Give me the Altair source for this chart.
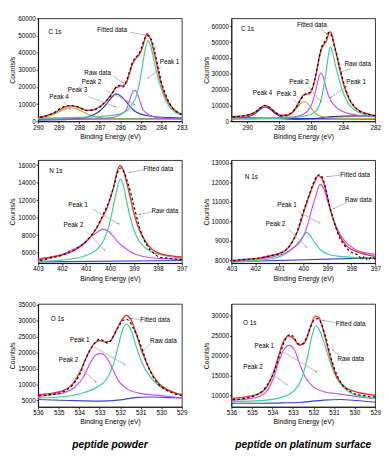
import math
import altair as alt
import pandas as pd

FONT = "Liberation Sans"
W, H = 148, 106

# ---------------- colours ----------------
RED = "#f02a2a"
GREEN = "#3cd08e"
BLUE = "#2433c2"
MAGENTA = "#c452f0"
OLIVE = "#a9b244"
BG = "#3a46c8"
DARKBG = "#1e2050"

# ---------------- panel 1 : C 1s, peptide powder ----------------
p1_bg = [(290, 1300), (287, 1350), (285, 1450), (283, 1500)]
p1_peak1 = [(290, 1800), (289, 2000), (288, 2300), (287, 2800), (286.5, 3300), (286.0, 4300), (285.8, 5300),
            (285.6, 7000), (285.4, 10500), (285.25, 13500), (285.1, 20000), (284.95, 30000), (284.8, 41000),
            (284.65, 47000), (284.5, 43000), (284.35, 35000), (284.2, 27000), (284.0, 19000), (283.8, 12500),
            (283.6, 8500), (283.4, 6000), (283.2, 4500), (283.0, 3700)]
p1_peak3 = [(290, 1200), (288, 1300), (287, 1500), (286.5, 2000), (286.2, 2800), (286.0, 3800), (285.85, 5000),
            (285.7, 7000), (285.55, 12000), (285.42, 16500), (285.3, 18000), (285.18, 16500), (285.05, 12000),
            (284.9, 7000), (284.75, 5000), (284.6, 3800), (284.4, 2800), (284.1, 2000), (283.5, 1500), (283, 1400)]
p1_peak2 = [(290, 800), (289, 900), (288.5, 1100), (288, 1500), (287.6, 2500), (287.3, 3800), (287.0, 6000),
            (286.7, 9500), (286.45, 13500), (286.2, 16000), (285.95, 14500), (285.7, 11300), (285.5, 8300),
            (285.3, 6000), (285.0, 4200), (284.6, 3100), (284.2, 2500), (283.6, 2100), (283, 1850)]
p1_peak4 = [(290, 1700), (289.6, 2600), (289.2, 4200), (288.9, 6000), (288.65, 7400), (288.4, 7900),
            (288.15, 7400), (287.9, 6000), (287.6, 4200), (287.2, 2600), (286.8, 1800), (286, 1400),
            (285, 1300), (283, 1200)]
p1_fit = [(290, 2200), (289.6, 3300), (289.2, 5000), (288.9, 7000), (288.65, 8500), (288.4, 9000),
          (288.15, 8600), (287.9, 7500), (287.6, 6400), (287.3, 6600), (287.0, 8500), (286.7, 11500),
          (286.45, 15500), (286.2, 19500), (286.0, 20500), (285.85, 20800), (285.7, 22500), (285.55, 28000),
          (285.4, 33500), (285.25, 36500), (285.1, 38500), (284.95, 42000), (284.8, 48000), (284.7, 51000),
          (284.6, 50000), (284.45, 45000), (284.3, 37500), (284.15, 29000), (284.0, 21500), (283.8, 14500),
          (283.6, 10000), (283.4, 7200), (283.2, 5400), (283.0, 4200)]
p1_raw = [(290, 2000), (289.6, 3200), (289.2, 5200), (288.9, 7600), (288.65, 9000), (288.4, 9200),
          (288.15, 8800), (287.9, 7600), (287.6, 6200), (287.3, 6800), (287.0, 8200), (286.7, 11800),
          (286.45, 15000), (286.2, 20000), (286.0, 21000), (285.85, 20000), (285.7, 23500), (285.55, 29000),
          (285.4, 34500), (285.25, 37500), (285.1, 39000), (284.95, 43500), (284.8, 48500), (284.7, 50000),
          (284.6, 49500), (284.45, 46500), (284.3, 39500), (284.15, 31000), (284.0, 23000), (283.8, 16000),
          (283.6, 10500), (283.4, 7000), (283.2, 5000), (283.0, 4000)]
p1_labels = [("Fitted data", 286.4, 53300), ("Peak 1", 283.6, 34400), ("Raw data", 287.1, 28300),
             ("Peak 2", 287.4, 22800), ("Peak 3", 288.08, 18100), ("Peak 4", 288.98, 14000)]
p1_arrows = [(285.55, 52000, 284.77, 50200), (283.98, 31700, 284.64, 25200), (286.36, 26500, 285.86, 22400),
             (286.67, 17800, 285.31, 9800), (287.55, 14400, 286.25, 8500), (288.75, 11300, 288.44, 7000)]

# ---------------- panel 2 : C 1s, peptide on platinum ----------------
p2_bg = [(291, 2200), (289.5, 2000), (288, 1700), (286.8, 1400), (285.8, 1700), (285, 2600), (284.3, 3200),
         (283, 3400), (282, 3400)]
p2_peak1 = [(291, 1500), (289, 1700), (287.5, 2200), (286.5, 3200), (286.0, 4500), (285.7, 6500), (285.5, 10000),
            (285.35, 15000), (285.2, 23000), (285.05, 33000), (284.92, 42000), (284.8, 47000), (284.68, 44000),
            (284.5, 36000), (284.3, 28000), (284.1, 21000), (283.9, 15500), (283.7, 11500), (283.4, 8000),
            (283.0, 5500), (282.5, 4000), (282, 3300)]
p2_peak2 = [(291, 1800), (289, 2000), (287.5, 2500), (286.8, 3300), (286.5, 4500), (286.2, 6800), (286.0, 10000),
            (285.85, 14500), (285.7, 20500), (285.55, 27000), (285.4, 30500), (285.25, 28000), (285.1, 22000),
            (284.95, 17000), (284.8, 13500), (284.6, 10500), (284.3, 7800), (284.0, 6000), (283.5, 4500),
            (283, 3700), (282, 3000)]
p2_peak3 = [(291, 1500), (289, 1700), (288, 2200), (287.5, 3200), (287.2, 5000), (286.95, 8000), (286.7, 11000),
            (286.45, 12500), (286.2, 11000), (285.95, 7500), (285.7, 4800), (285.4, 3200), (285, 2400),
            (284, 2000), (282, 1700)]
p2_peak4 = [(291, 1600), (290.3, 2100), (289.9, 3000), (289.5, 5000), (289.2, 7500), (288.9, 9000),
            (288.6, 7800), (288.3, 5200), (288.0, 3300), (287.6, 2300), (287, 1800), (285, 1500), (282, 1400)]
p2_fit = [(291, 2900), (290.5, 3200), (290, 3800), (289.6, 5200), (289.3, 7500), (289.1, 9200), (288.9, 9900),
          (288.7, 9200), (288.4, 6800), (288.1, 4600), (287.8, 3800), (287.5, 3800), (287.2, 5500),
          (286.95, 9000), (286.7, 13500), (286.5, 16500), (286.3, 17000), (286.1, 17500), (285.95, 20000),
          (285.8, 25000), (285.65, 32000), (285.5, 40000), (285.35, 46000), (285.2, 48500), (285.05, 51000),
          (284.92, 55000), (284.82, 56500), (284.7, 54500), (284.55, 48000), (284.4, 41000), (284.2, 32000),
          (284.0, 24000), (283.8, 18000), (283.55, 12500), (283.3, 9000), (283.0, 6800), (282.5, 4800),
          (282, 3600)]
p2_raw = [(291, 2800), (290.6, 3000), (290.2, 3500), (289.8, 4500), (289.4, 6600), (289.1, 9000), (288.9, 10000),
          (288.7, 9500), (288.4, 7000), (288.1, 4500), (287.8, 3500), (287.5, 4000), (287.2, 5800),
          (286.95, 8600), (286.7, 13000), (286.5, 16000), (286.3, 17800), (286.1, 18200), (285.95, 20500),
          (285.8, 26000), (285.65, 33000), (285.5, 41000), (285.35, 47000), (285.2, 49500), (285.05, 52500),
          (284.92, 56000), (284.82, 55500), (284.7, 53000), (284.55, 47000), (284.4, 42000), (284.2, 33500),
          (284.0, 25500), (283.8, 19000), (283.55, 13000), (283.3, 9500), (283.0, 6500), (282.5, 4600),
          (282, 3500)]
p2_labels = [("Fitted data", 285.97, 60800), ("Raw data", 283.09, 36200), ("Peak 1", 283.19, 24500),
             ("Peak 2", 286.77, 24500), ("Peak 3", 287.56, 17100), ("Peak 4", 289.05, 17700)]
p2_arrows = [(285.47, 59400, 285.02, 54900), (283.54, 33200, 284.14, 31200), (283.72, 22100, 284.78, 15100),
             (286.17, 21500, 285.41, 12500), (287.16, 14100, 286.77, 10100)]

# ---------------- panel 3 : N 1s, peptide powder ----------------
p3_bg = [(403, 4950), (397, 5100)]
p3_peak1 = [(403, 5000), (402, 5150), (401.2, 5500), (400.8, 5900), (400.5, 6500), (400.25, 7500),
            (400.05, 9000), (399.9, 10800), (399.75, 12800), (399.6, 14300), (399.55, 14400), (399.45, 13800),
            (399.3, 11800), (399.15, 10000), (399.0, 8600), (398.8, 7400), (398.5, 6500), (398.2, 6000),
            (397.8, 5700), (397.4, 5500), (397, 5400)]
p3_peak2 = [(403, 5300), (402.5, 5500), (402, 5800), (401.6, 6300), (401.3, 6700), (401.0, 7300),
            (400.75, 7900), (400.5, 8400), (400.3, 8700), (400.1, 8500), (399.9, 8000), (399.7, 7300),
            (399.45, 6700), (399.2, 6200), (399.0, 5900), (398.5, 5500), (398, 5350), (397, 5250)]
p3_fit = [(403, 5200), (402.4, 5500), (401.9, 5800), (401.45, 6300), (401.05, 7100), (400.7, 8200),
          (400.4, 9600), (400.1, 11300), (399.85, 13500), (399.7, 15300), (399.58, 16000), (399.45, 15500),
          (399.3, 14000), (399.15, 12300), (399.0, 10500), (398.8, 8800), (398.55, 7400), (398.25, 6400),
          (397.9, 5900), (397.5, 5650), (397, 5500)]
p3_raw = [(403, 5100), (402.7, 5200), (402.4, 5450), (402.1, 5600), (401.8, 5950), (401.5, 6300),
          (401.2, 6800), (400.9, 7600), (400.6, 8700), (400.3, 10300), (400.0, 12200), (399.8, 14000),
          (399.65, 15400), (399.55, 15700), (399.42, 15300), (399.28, 14200), (399.12, 12700), (398.95, 10800),
          (398.8, 9200), (398.6, 7600), (398.4, 6600), (398.2, 6000), (397.95, 5500), (397.7, 5400),
          (397.4, 5300), (397, 5200)]
p3_labels = [("Fitted data", 397.98, 15600), ("Raw data", 397.71, 10800), ("Peak 1", 401.33, 11400),
             ("Peak 2", 401.53, 9200)]
p3_arrows = [(398.58, 15500, 399.18, 15200), (398.18, 10700, 398.78, 10400), (400.72, 11000, 399.65, 9300),
             (400.99, 8400, 400.23, 6300)]

# ---------------- panel 4 : N 1s, peptide on platinum ----------------
p4_bg = [(403, 7920), (397, 8120)]
p4_peak1 = [(403, 7950), (402, 8050), (401.2, 8200), (400.7, 8400), (400.4, 8650), (400.1, 9000),
            (399.85, 9700), (399.65, 10600), (399.48, 11300), (399.3, 11900), (399.15, 11700), (399.0, 11100),
            (398.85, 10500), (398.65, 9800), (398.45, 9300), (398.2, 8900), (397.9, 8600), (397.5, 8400),
            (397, 8300)]
p4_peak2 = [(403, 7900), (402, 7980), (401.2, 8100), (400.8, 8300), (400.5, 8550), (400.25, 8850),
            (400.05, 9150), (399.85, 9430), (399.7, 9250), (399.55, 8950), (399.4, 8700), (399.2, 8450),
            (398.9, 8280), (398.5, 8200), (397, 8100)]
p4_fit = [(403, 7980), (402.4, 8050), (401.8, 8120), (401.2, 8280), (400.75, 8500), (400.48, 8900),
          (400.2, 9600), (399.95, 10600), (399.7, 11500), (399.5, 12100), (399.38, 12350), (399.25, 12250),
          (399.1, 11800), (398.95, 11000), (398.75, 10100), (398.5, 9300), (398.2, 8750), (397.8, 8450),
          (397.4, 8300), (397, 8200)]
p4_raw = [(403, 7950), (402.8, 8000), (402.5, 8030), (402.2, 8060), (401.9, 8100), (401.6, 8160),
          (401.3, 8250), (401.0, 8330), (400.7, 8550), (400.45, 8950), (400.25, 9500), (400.0, 10500),
          (399.8, 11200), (399.6, 11900), (399.45, 12300), (399.32, 12400), (399.2, 12250), (399.05, 11600),
          (398.9, 10800), (398.7, 9900), (398.5, 9200), (398.3, 8800), (398.1, 8500), (397.9, 8350),
          (397.7, 8250), (397.55, 8050), (397.45, 8200), (397.3, 8000), (397.15, 8150), (397, 8050)]
p4_labels = [("Fitted data", 397.84, 12380), ("Raw data", 397.7, 11070), ("Peak 1", 400.68, 10820),
             ("Peak 2", 401.16, 9870)]
p4_arrows = [(398.45, 12380, 398.99, 12300), (398.18, 10980, 398.72, 10660), (400.21, 10500, 399.33, 9920),
             (400.62, 9590, 399.87, 8690)]

# ---------------- panel 5 : O 1s, peptide powder ----------------
p5_bg = [(536, 5300), (534.5, 5000), (533, 4800), (532, 5200), (531.3, 5900), (530.5, 6100), (529.5, 5900),
         (529, 5800)]
p5_peak1 = [(536, 5800), (535, 6100), (534.5, 6400), (533.75, 7500), (533.1, 9300), (532.65, 11800),
            (532.35, 16000), (532.1, 22000), (531.9, 27000), (531.7, 29000), (531.5, 27500), (531.25, 22500),
            (530.95, 17000), (530.55, 12500), (530.15, 9800), (529.7, 8100), (529.3, 7200), (529, 6700)]
p5_peak2 = [(536, 6300), (535.3, 6800), (534.8, 7300), (534.2, 9300), (533.8, 12300), (533.5, 16300),
            (533.2, 19300), (532.95, 19800), (532.7, 18800), (532.4, 15300), (532.1, 11300), (531.7, 8800),
            (531.1, 7300), (530.1, 6600), (529, 5800)]
p5_fit = [(536, 6800), (535.3, 7300), (534.7, 8300), (534.3, 10300), (533.9, 14800), (533.6, 19300),
          (533.3, 22600), (533.0, 23800), (532.75, 23400), (532.5, 23600), (532.2, 27000), (531.9, 30500),
          (531.72, 31700), (531.5, 30500), (531.25, 26500), (530.95, 20500), (530.55, 14500), (530.15, 10500),
          (529.7, 8400), (529.3, 7300), (529, 6800)]
p5_raw = [(536, 6500), (535.6, 6700), (535.2, 7000), (534.8, 7700), (534.5, 8800), (534.2, 10800),
          (533.95, 13500), (533.7, 17800), (533.45, 21000), (533.2, 23300), (533.0, 24300), (532.8, 23600),
          (532.6, 23000), (532.4, 24400), (532.2, 26800), (532.0, 29000), (531.85, 30200), (531.7, 30500),
          (531.55, 29800), (531.35, 27500), (531.15, 24800), (530.9, 20500), (530.7, 16500), (530.45, 13000),
          (530.2, 10500), (529.9, 8800), (529.6, 7800), (529.3, 7000), (529, 6600)]
p5_labels = [("Fitted data", 530.3, 30100), ("Raw data", 529.9, 23800), ("Peak 1", 533.97, 24000),
             ("Peak 2", 534.52, 17800)]
p5_arrows = [(531.0, 30300, 531.47, 30800), (530.53, 22800, 530.92, 20300), (533.27, 21800, 531.78, 16300),
             (533.89, 14800, 533.19, 10800)]

# ---------------- panel 6 : O 1s, peptide on platinum ----------------
p6_bg = [(536, 8100), (534.8, 8100), (533.5, 8200), (532.6, 8350), (531.5, 8900), (530.7, 9050),
         (529.9, 8800), (529, 8350)]
p6_peak1 = [(536, 8500), (534.3, 8900), (533.5, 9700), (533.0, 11000), (532.6, 14000), (532.3, 19500),
            (532.05, 25500), (531.9, 27600), (531.72, 26500), (531.5, 23500), (531.2, 18500), (530.85, 14200),
            (530.45, 11600), (529.9, 10100), (529.4, 9600), (529, 9300)]
p6_peak2 = [(536, 8900), (535.2, 9200), (534.65, 9800), (534.25, 11300), (533.95, 14500), (533.7, 18500),
            (533.45, 21500), (533.2, 22600), (532.95, 21700), (532.7, 18300), (532.4, 14600), (532.0, 12200),
            (531.5, 11000), (530.7, 10400), (529.8, 9700), (529, 9300)]
p6_fit = [(536, 9300), (535.3, 9700), (534.65, 10500), (534.25, 12400), (533.95, 15800), (533.7, 20000),
          (533.45, 23800), (533.2, 25000), (532.95, 24200), (532.7, 22700), (532.5, 22900), (532.3, 24800),
          (532.1, 28000), (531.9, 30000), (531.72, 29400), (531.5, 25800), (531.2, 19800), (530.9, 15000),
          (530.5, 12300), (529.9, 10900), (529.4, 10400), (529, 10100)]
p6_raw = [(536, 9000), (535.6, 9100), (535.2, 9500), (534.9, 9900), (534.6, 10700), (534.35, 12000),
          (534.1, 14000), (533.85, 17000), (533.6, 21000), (533.35, 24300), (533.15, 25300), (532.95, 24600),
          (532.75, 23000), (532.55, 23000), (532.35, 24500), (532.15, 27200), (531.95, 29000), (531.8, 29300),
          (531.6, 27800), (531.4, 24500), (531.2, 20500), (531.0, 17000), (530.75, 14000), (530.5, 12200),
          (530.2, 11000), (529.9, 10300), (529.6, 10100), (529.3, 9800), (529, 9700)]
p6_labels = [("Fitted data", 530.19, 27900), ("Raw data", 530.19, 19300), ("Peak 1", 534.4, 22500),
             ("Peak 2", 534.95, 17100)]
p6_arrows = [(530.95, 28300, 531.54, 28900), (530.75, 19900, 531.06, 21500), (533.52, 21100, 531.86, 16000),
             (534.08, 15600, 533.29, 12800)]

# ---------------- axes ----------------
x_c_powder = [290, 283]; xt_c_powder = [290, 289, 288, 287, 286, 285, 284, 283]
x_c_pt = [291, 282]; xt_c_pt = [290, 288, 286, 284, 282]
x_n = [403, 397]; xt_n = [403, 402, 401, 400, 399, 398, 397]
x_o = [536, 529]; xt_o = [536, 535, 534, 533, 532, 531, 530, 529]
y1 = [0, 60000]; yt1 = [0, 10000, 20000, 30000, 40000, 50000, 60000]
y2 = [0, 65000]; yt2 = [0, 10000, 20000, 30000, 40000, 50000, 60000]
y3 = [4800, 16600]; yt3 = [6000, 8000, 10000, 12000, 14000, 16000]
y4 = [7850, 13150]; yt4 = [8000, 9000, 10000, 11000, 12000, 13000]
y5 = [3000, 35300]; yt5 = [5000, 10000, 15000, 20000, 25000, 30000, 35000]
y6 = [7200, 33000]; yt6 = [10000, 15000, 20000, 25000, 30000]


def panel(name, name_pos, xdom, xticks, ydom, yticks, curves, raw, labels, arrows, bottom_title=None):
    xs = alt.Scale(domain=[min(xdom), max(xdom)], reverse=True, nice=False, zero=False)
    ys = alt.Scale(domain=ydom, nice=False, zero=False)
    xax = alt.Axis(values=xticks, format="d", title="Binding Energy (eV)", labelOverlap=False, labelFlush=False)
    yax = alt.Axis(values=yticks, format="d", title="Counts/s", labelOverlap=False, labelFlush=False)
    xenc = alt.X("x:Q", scale=xs, axis=xax)
    yenc = alt.Y("y:Q", scale=ys, axis=yax)
    layers = []
    for pts, color, sw in curves:
        df = pd.DataFrame(pts, columns=["x", "y"])
        layers.append(alt.Chart(df).mark_line(color=color, strokeWidth=sw, interpolate="monotone", clip=True)
                      .encode(x=xenc, y=yenc, order="x:Q"))
    rdf = pd.DataFrame(raw, columns=["x", "y"])
    layers.append(alt.Chart(rdf).mark_line(color="black", strokeWidth=1.2, strokeDash=[2.5, 2.5],
                                           interpolate="monotone", clip=True)
                  .encode(x=xenc, y=yenc, order="x:Q"))
    # arrows: grey shaft plus a small dark head at the tip
    span_x = abs(xdom[0] - xdom[1]); span_y = ydom[1] - ydom[0]
    shafts, heads = [], []
    for x1, y1_, x2, y2_ in arrows:
        dx = -(x2 - x1) / span_x * W
        dy = -(y2_ - y1_) / span_y * H
        ang = math.degrees(math.atan2(dx, -dy)) % 360
        shafts.append({"x": x1, "y": y1_, "x2": x2, "y2": y2_})
        heads.append({"x": x2, "y": y2_, "ang": ang})
    layers.append(alt.Chart(pd.DataFrame(shafts)).mark_rule(color="#a8a8a8", strokeWidth=0.8)
                  .encode(x=xenc, y=yenc, x2="x2:Q", y2="y2:Q"))
    layers.append(alt.Chart(pd.DataFrame(heads)).mark_point(shape="wedge", filled=True, color="#333333",
                                                             size=9, opacity=1)
                  .encode(x=xenc, y=yenc, angle=alt.Angle("ang:Q", scale=None)))
    ldf = pd.DataFrame(labels, columns=["t", "x", "y"])
    layers.append(alt.Chart(ldf).mark_text(font=FONT, fontSize=6.5, color="black", align="center",
                                           baseline="middle")
                  .encode(x=xenc, y=yenc, text="t:N"))
    ndf = pd.DataFrame([{"t": name, "x": name_pos[0], "y": name_pos[1]}])
    layers.append(alt.Chart(ndf).mark_text(font=FONT, fontSize=6.5, color="black", align="left",
                                           baseline="middle")
                  .encode(x=xenc, y=yenc, text="t:N"))
    ch = alt.layer(*layers).properties(width=W, height=H)
    if bottom_title:
        ch = ch.properties(title=alt.TitleParams(bottom_title, orient="bottom", anchor="middle", frame="group",
                                                 font=FONT, fontSize=10.5, fontStyle="italic",
                                                 fontWeight="bold", color="black", offset=16))
    return ch


c1 = panel("C 1s", (289.5, 52000), x_c_powder, xt_c_powder, y1, yt1,
           [(p1_bg, BG, 1.2), (p1_peak4, OLIVE, 1.2), (p1_peak2, BLUE, 1.2), (p1_peak3, MAGENTA, 1.2),
            (p1_peak1, GREEN, 1.2), (p1_fit, RED, 1.4)], p1_raw, p1_labels, p1_arrows)
c2 = panel("C 1s", (290.4, 58300), x_c_pt, xt_c_pt, y2, yt2,
           [(p2_bg, DARKBG, 1.2), (p2_peak4, BLUE, 1.2), (p2_peak3, OLIVE, 1.2), (p2_peak2, MAGENTA, 1.2),
            (p2_peak1, GREEN, 1.2), (p2_fit, RED, 1.4)], p2_raw, p2_labels, p2_arrows)
n1 = panel("N 1s", (402.53, 15400), x_n, xt_n, y3, yt3,
           [(p3_bg, BG, 1.2), (p3_peak2, MAGENTA, 1.2), (p3_peak1, GREEN, 1.2), (p3_fit, RED, 1.4)],
           p3_raw, p3_labels, p3_arrows)
n2 = panel("N 1s", (402.44, 12260), x_n, xt_n, y4, yt4,
           [(p4_bg, BG, 1.2), (p4_peak2, GREEN, 1.2), (p4_peak1, MAGENTA, 1.2), (p4_fit, RED, 1.4)],
           p4_raw, p4_labels, p4_arrows)
o1 = panel("O 1s", (535.38, 30500), x_o, xt_o, y5, yt5,
           [(p5_bg, BG, 1.2), (p5_peak2, MAGENTA, 1.2), (p5_peak1, GREEN, 1.2), (p5_fit, RED, 1.4)],
           p5_raw, p5_labels, p5_arrows, bottom_title="peptide powder")
o2 = panel("O 1s", (535.43, 28300), x_o, xt_o, y6, yt6,
           [(p6_bg, BG, 1.2), (p6_peak2, MAGENTA, 1.2), (p6_peak1, GREEN, 1.2), (p6_fit, RED, 1.4)],
           p6_raw, p6_labels, p6_arrows, bottom_title="peptide on platinum surface")

chart = alt.vconcat(
    alt.hconcat(c1, c2, spacing=14),
    alt.hconcat(n1, n2, spacing=14),
    alt.hconcat(o1, o2, spacing=14),
    spacing=20,
).properties(
    padding={"left": 0, "top": 0, "right": 0, "bottom": 0},
    background="white",
).configure_axis(
    labelFont=FONT, titleFont=FONT, labelFontSize=6.5, titleFontSize=7, titleFontWeight="normal",
    labelColor="black", titleColor="black", domainColor="black", tickColor="black", tickSize=2,
    labelPadding=1, titlePadding=2, grid=False, domainWidth=0.8, tickWidth=0.8,
    labelOverlap=False, labelFlush=False,
).configure_view(stroke="black", strokeWidth=0.8)

chart.save("out.html", embed_options={"renderer": "svg", "actions": False})
